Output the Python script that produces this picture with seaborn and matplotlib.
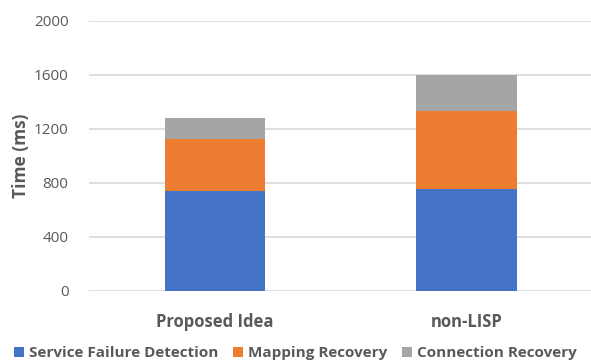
import numpy as np
import pandas as pd
import matplotlib
matplotlib.use("Agg")
import matplotlib.pyplot as plt
from matplotlib.patches import Patch
import seaborn as sns

# Recovery time breakdown per scheme (ms)
schemes = ["Proposed Idea", "non-LISP"]
service_failure_detection = [740, 750]
mapping_recovery = [380, 580]
connection_recovery = [160, 265]

series_names = ["Service Failure Detection", "Mapping Recovery", "Connection Recovery"]
series_colors = ["#4472C4", "#ED7D31", "#A5A5A5"]
y_ticks = [0, 400, 800, 1200, 1600, 2000]

sns.set_theme(style="white")
plt.rcParams["font.family"] = ["Open Sans", "DejaVu Sans"]

text_gray = "#595959"

# Stack the components: cumulative totals, drawn from the tallest down
parts = np.array([service_failure_detection, mapping_recovery, connection_recovery])
cumulative = np.cumsum(parts, axis=0)

fig = plt.figure(figsize=(5.91, 3.60), dpi=100)
ax = fig.add_axes([89.3 / 591, 69.5 / 360, 503 / 591, 270 / 360])

for level in range(len(series_names) - 1, -1, -1):
    df = pd.DataFrame({"scheme": schemes, "time": cumulative[level]})
    sns.barplot(data=df, x="scheme", y="time", color=series_colors[level],
                saturation=1, width=0.4, linewidth=0, edgecolor="none",
                ax=ax, zorder=2)

ax.set_xlim(-0.5, 1.5)
ax.set_ylim(0, 2000)
ax.set_yticks(y_ticks)
ax.set_yticklabels([str(v) for v in y_ticks])
ax.yaxis.grid(True, color="#D9D9D9", linewidth=1.2, zorder=0)
ax.set_axisbelow(True)
for s in ax.spines.values():
    s.set_visible(False)
ax.tick_params(axis="y", length=0, pad=15, labelsize=11, labelcolor=text_gray)
ax.tick_params(axis="x", length=0, pad=16, labelsize=12, labelcolor=text_gray)
for lbl in ax.get_xticklabels():
    lbl.set_fontweight("bold")
ax.set_xlabel("")
ax.set_ylabel("Time (ms)", fontsize=12.5, fontweight="bold", color=text_gray, labelpad=3)

handles = [Patch(facecolor=c, edgecolor="none") for c in series_colors]
fig.legend(handles, series_names, loc="center", bbox_to_anchor=(0.5, 7 / 360),
           ncol=3, frameon=False, handlelength=0.65, handleheight=0.65,
           handletextpad=0.3, columnspacing=1.0,
           prop={"size": 11, "weight": "bold"}, labelcolor=text_gray)

fig.savefig("out.png", dpi=100)
